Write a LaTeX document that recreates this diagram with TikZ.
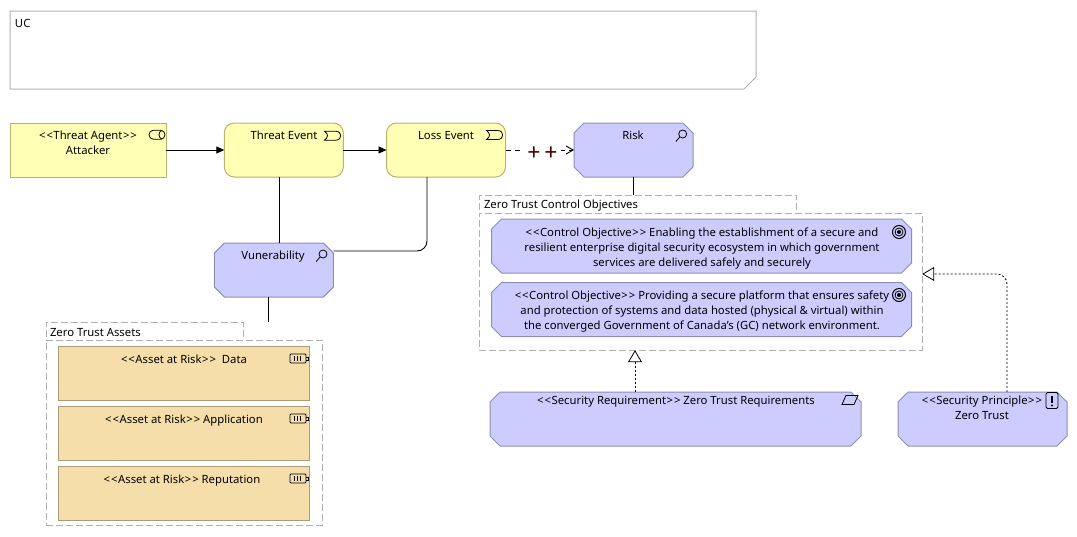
\documentclass[tikz,border=0pt]{standalone}
\usepackage{fontspec}
\setmainfont{Noto Sans}
\usepackage{xcolor}
\usetikzlibrary{arrows.meta}

\definecolor{threatfill}{HTML}{FFFFB5}
\definecolor{threatline}{HTML}{B5B56E}
\definecolor{motivfill}{HTML}{CCCCFF}
\definecolor{motivline}{HTML}{8E8EB2}
\definecolor{assetfill}{HTML}{F5DEAA}
\definecolor{assetline}{HTML}{AB9B76}
\definecolor{groupline}{HTML}{B0B0B0}
\definecolor{plusred}{HTML}{4A0000}

\newcommand{\stl}{<\kern1pt<\kern0.5pt}
\newcommand{\str}{\kern0.5pt>\kern1pt>}
\newcommand{\octagon}[1]{\draw[motivline, fill=motivfill, line width=1pt]
  ([xshift=10pt]#1.north west) -- ([xshift=-10pt]#1.north east) -- ([yshift=-10pt]#1.north east)
  -- ([yshift=10pt]#1.south east) -- ([xshift=-10pt]#1.south east) -- ([xshift=10pt]#1.south west)
  -- ([yshift=10pt]#1.south west) -- ([yshift=-10pt]#1.north west) -- cycle;}

\tikzset{
  pics/actoricon/.style={code={
    \draw[icon, rounded corners=4.4pt] (-8,-4.5) rectangle (8,4.5);
    \draw[icon] (5,-4.5) .. controls (1,-3) and (1,3) .. (5,4.5);}},
  pics/eventicon/.style={code={
    \draw[icon] (-8,-4.5) -- (3,-4.5) .. controls (10,-4.5) and (10,4.5) .. (3,4.5)
      -- (-8,4.5) .. controls (-4,1.5) and (-4,-1.5) .. (-8,-4.5) -- cycle;}},
  pics/lensicon/.style={code={
    \draw[icon] (0,0) circle (4pt);
    \draw[icon] (-2.8,2.8) -- (-6.8,7.5);}},
  pics/goalicon/.style={code={
    \draw[icon, line width=1pt] (0,0) circle (6.5pt);
    \draw[icon] (0,0) circle (4pt);
    \fill (0,0) circle (2pt);}},
  pics/reqicon/.style={code={
    \draw[icon] (-8,4.5) -- (-4,-4.5) -- (8,-4.5) -- (4,4.5) -- cycle;}},
  pics/principleicon/.style={code={
    \draw[icon, rounded corners=1.5pt] (-6,-8) rectangle (6,8);
    \draw[line width=2pt] (0,-5) -- (0,2);
    \fill (0,5) circle (1.2pt);}},
  pics/batteryicon/.style={code={
    \draw[icon, rounded corners=1pt] (-9,-4.5) rectangle (7,4.5);
    \draw[icon] (7,-1.5) -- (9,-1.5) -- (9,1.5) -- (7,1.5);
    \foreach \barx in {-5,-2,1} {\draw[icon] (\barx,-2.5) -- (\barx,2.5);}}}
}

\begin{document}
\begin{tikzpicture}[
    x=1pt, y=-1pt,
    every node/.style={inner sep=0pt, outer sep=0pt},
    icon/.style={draw=black, line width=0.8pt},
    txt/.style={align=center, font=\fontsize{11.3}{15}\selectfont, text=black},
    grouptxt/.style={txt, anchor=west},
    threatbox/.style={rectangle, draw=threatline, line width=1pt, fill=threatfill, minimum width=156pt, minimum height=54pt},
    eventbox/.style={rectangle, draw=threatline, line width=1pt, fill=threatfill, rounded corners=10pt, minimum width=119pt, minimum height=54pt},
    motivbox/.style={rectangle, minimum height=54pt},
    assetbox/.style={rectangle, draw=assetline, line width=1pt, fill=assetfill, minimum width=251pt, minimum height=54pt},
    groupbox/.style={rectangle, draw=groupline, line width=1pt, dash pattern=on 7pt off 3pt, fill=white},
    ucbox/.style={rectangle, minimum width=746pt, minimum height=78pt},
    arr/.style={-{Triangle[length=8pt, width=7pt]}, line width=0.9pt},
    link/.style={line width=0.9pt},
    dep/.style={-{Straight Barb[length=7pt, width=8pt]}, line width=0.9pt, dash pattern=on 5pt off 4pt},
    real/.style={-{Triangle[open, length=12pt, width=14pt, fill=white]}, line width=0.8pt, dash pattern=on 2pt off 2pt},
    plusmark/.style={fill=white, text=plusred, font=\fontsize{23}{23}\selectfont, minimum width=38pt, text height=14pt}
  ]
  \useasboundingbox (0,0) rectangle (1077,536);

  %% ── note ──────────────────────────────────────────────────────────
  \node[ucbox]                  (uc)        at (383,50)     {};
  \draw[groupline, line width=1pt] (uc.north west) -- (uc.north east) -- ([yshift=12pt]uc.south east)
    -- ([xshift=-12pt]uc.south east) -- (uc.south west) -- cycle;
  \node[grouptxt]               (ucText)    at (15,23)      {UC};

  %% ── threat row (y = 150) ───────────────────────────────────────────
  \node[threatbox]              (attacker)  at (88,150)     {};
  \node[eventbox]               (threat)    at (283.8,150)  {};
  \node[eventbox]               (loss)      at (446,150)    {};
  \node[motivbox, minimum width=119pt] (risk) at (633.5,150) {}; \octagon{risk}
  \node[motivbox, minimum width=119pt] (vuln) at (273.8,270) {}; \octagon{vuln}
  \node[txt] (attackerText) at (88,143)   {\stl Threat Agent\str\\Attacker};
  \node[txt] (threatText)   at (284,135.5)  {Threat Event};
  \node[txt] (lossText)     at (446,135.5)  {Loss Event};
  \node[txt] (riskText)     at (633,135.5)  {Risk};
  \node[txt] (vulnText)     at (273,257)  {Vunerability};
  \pic at (157,134.7) {actoricon};
  \pic at (332.5,135.7) {eventicon};
  \pic at (494.5,135) {eventicon};
  \pic at (682.7,134) {lensicon};
  \pic at (323,254) {lensicon};

  %% ── control objectives group ──────────────────────────────────────
  \node[groupbox, minimum width=317pt, minimum height=18pt] (objTab)   at (638,204)     {};
  \node[groupbox, minimum width=443pt, minimum height=137pt] (objGroup) at (700.7,281.7) {};
  \node[grouptxt]                        (objTitle) at (484,206)     {Zero Trust Control Objectives};
  \node[motivbox, minimum width=420pt]   (obj1)     at (701.5,246)   {}; \octagon{obj1}
  \node[motivbox, minimum width=420pt]   (obj2)     at (701.5,309.5) {}; \octagon{obj2}
  \node[txt] (obj1Text) at (702,249) {\stl Control Objective\str\ Enabling the establishment of a secure and\\resilient enterprise digital security ecosystem in which government\\services are delivered safely and securely};
  \node[txt] (obj2Text) at (702,312) {\stl Control Objective\str\ Providing a secure platform that ensures safety\\and protection of systems and data hosted (physical \& virtual) within\\the converged Government of Canada's (GC) network environment.};
  \pic at (899,232) {goalicon};
  \pic at (899,295) {goalicon};

  %% ── assets group ──────────────────────────────────────────────────
  \node[groupbox, minimum width=197pt, minimum height=18pt] (assetTab)   at (144.5,331)  {};
  \node[groupbox, minimum width=276pt, minimum height=185pt] (assetGroup) at (184,432.5) {};
  \node[grouptxt]    (assetTitle) at (50,332)     {Zero Trust Assets};
  \node[assetbox]    (data)       at (183.7,373.3) {};
  \node[assetbox]    (app)        at (183.7,433.5) {};
  \node[assetbox]    (reput)      at (183.7,493.4) {};
  \node[txt] (dataText)  at (184,359) {\stl Asset at Risk\str\ \ Data};
  \node[txt] (appText)   at (184,421) {\stl Asset at Risk\str\ Application};
  \node[txt] (reputText) at (182,481) {\stl Asset at Risk\str\ Reputation};
  \foreach \bary in {358.5,418.5,478.5} {\pic at (299,\bary) {batteryicon};}

  %% ── requirement and principle ─────────────────────────────────────
  \node[motivbox, minimum width=371pt] (req)  at (675.5,419) {}; \octagon{req}
  \node[motivbox, minimum width=169pt] (prin) at (982.5,419) {}; \octagon{prin}
  \node[txt] (reqText)  at (676,402) {\stl Security Requirement\str\ Zero Trust Requirements};
  \node[txt] (prinText) at (982,407.5) {\stl Security Principle\str\\Zero Trust};
  \pic at (850,400) {reqicon};
  \pic at (1052,400.5) {principleicon};

  %% ── connectors ────────────────────────────────────────────────────
  \coordinate (threatDrop) at (279,0);
  \coordinate (lossDrop)   at (427,0);
  \coordinate (vulnJoin)   at (333.5,251);
  \coordinate (assetDrop)  at (268.5,0);
  \coordinate (reqRise)    at (635,0);
  \coordinate (prinTurn)   at (1007,274);
  \draw[arr] (attacker) -- (threat);
  \draw[arr] (threat) -- (loss);
  \draw[dep] (loss) -- node[plusmark, pos=0.54] (lossPlus) {\raisebox{-7pt}{+\kern4pt+}} (risk);
  \draw[link] (risk) -- (risk |- objTab.north);
  \draw[link] (threatDrop |- threat.south) -- (threatDrop |- vuln.north);
  \draw[link, rounded corners=10pt] (lossDrop |- loss.south) -- (lossDrop |- vulnJoin) -- (vulnJoin);
  \draw[link] (assetDrop |- vuln.south) -- (assetDrop |- assetTab.north);
  \draw[real] (reqRise |- req.north) -- (reqRise |- objGroup.south);
  \draw[real, rounded corners=10pt] (prinTurn |- prin.north) -- (prinTurn) -- (prinTurn -| objGroup.east);

\end{tikzpicture}
\end{document}
